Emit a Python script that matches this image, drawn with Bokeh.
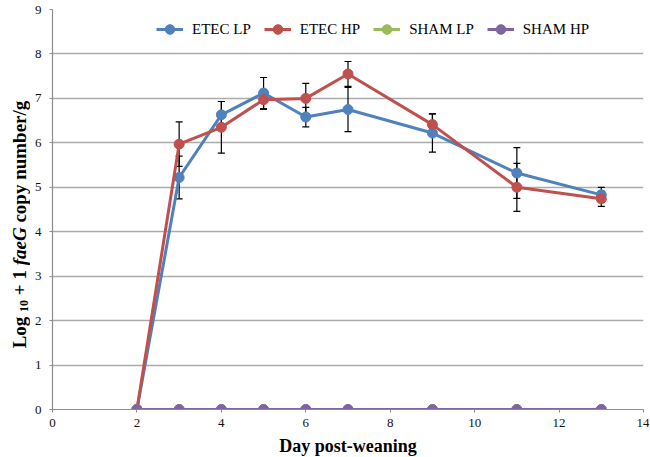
from math import pi
from bokeh.plotting import figure
from bokeh.layouts import row
from bokeh.models import ColumnDataSource, Whisker, TeeHead, Legend, LegendItem
from bokeh.core.properties import value
from bokeh.embed import file_html
from bokeh.resources import INLINE

days = [2, 3, 4, 5, 6, 7, 9, 11, 13]
etec_lp = [0, 5.22, 6.63, 7.12, 6.58, 6.75, 6.22, 5.32, 4.83]
etec_hp = [0, 5.97, 6.35, 6.97, 7.0, 7.55, 6.41, 5.0, 4.74]
sham_lp = [0, 0, 0, 0, 0, 0, 0, 0, 0]
sham_hp = [0, 0, 0, 0, 0, 0, 0, 0, 0]
err_lp = [0, 0.48, 0.3, 0.35, 0.22, 0.5, 0.43, 0.57, 0.17]
err_hp = [0, 0.5, 0.58, 0.22, 0.34, 0.28, 0.24, 0.54, 0.17]
series_names = ["ETEC LP", "ETEC HP", "SHAM LP", "SHAM HP"]
colors = ["#4F81BD", "#C0504D", "#9BBB59", "#8064A2"]
x_ticks = [0, 2, 4, 6, 8, 10, 12, 14]
y_ticks = [0, 1, 2, 3, 4, 5, 6, 7, 8, 9]
y_label_parts = ["Log", "10", "+ 1", "faeG", "copy number/g"]

FONT = "Liberation Serif"
H = 456
LW = 30          # width of the strip holding the y-axis title
TOP, FH = 9, 400

p = figure(frame_width=591, frame_height=FH, x_range=(0, 14), y_range=(0, 9),
           output_backend="svg", toolbar_location=None,
           min_border_left=52 - LW, min_border_top=TOP, min_border_right=6,
           min_border_bottom=H - TOP - FH)
p.outline_line_color = None
p.xgrid.grid_line_color = None
p.ygrid.grid_line_color = "#ABABAB"
p.ygrid.grid_line_width = 1.5
p.xaxis.ticker = x_ticks
p.yaxis.ticker = y_ticks
for ax in (p.xaxis, p.yaxis):
    ax.axis_line_color = "#8C8C8C"
    ax.axis_line_width = 1.2
    ax.major_tick_line_color = "#8C8C8C"
    ax.major_tick_out = 3
    ax.major_tick_in = 0
    ax.minor_tick_line_color = None
    ax.major_label_text_font = FONT
    ax.major_label_text_font_size = "13px"
    ax.major_label_text_color = "#111111"
p.yaxis.major_label_standoff = 8
p.xaxis.major_label_standoff = 6
p.xaxis.axis_label = "Day post-weaning"
p.xaxis.axis_label_text_font = FONT
p.xaxis.axis_label_text_font_size = "18px"
p.xaxis.axis_label_text_font_style = "bold"
p.xaxis.axis_label_text_color = "#000000"
p.xaxis.axis_label_standoff = 6

# error bars
for vals, errs in ((etec_lp, err_lp), (etec_hp, err_hp)):
    xs = [d for d, e in zip(days, errs) if e > 0]
    up = [v + e for v, e in zip(vals, errs) if e > 0]
    lo = [v - e for v, e in zip(vals, errs) if e > 0]
    src = ColumnDataSource(dict(x=xs, upper=up, lower=lo))
    w = Whisker(base="x", upper="upper", lower="lower", source=src,
                line_color="black", line_width=1.2,
                upper_head=TeeHead(size=7, line_color="black", line_width=1.2),
                lower_head=TeeHead(size=7, line_color="black", line_width=1.2))
    p.add_layout(w)

items = []
for name, vals, c in zip(series_names, [etec_lp, etec_hp, sham_lp, sham_hp], colors):
    rl = p.line(days, vals, line_color=c, line_width=3)
    rs = p.scatter(days, vals, size=10, fill_color=c, line_color=c)
    items.append(LegendItem(label=name, renderers=[rl, rs]))

legend = Legend(items=items, orientation="horizontal", location=(104, FH - 32),
                glyph_width=27, glyph_height=24, label_height=24, label_standoff=9,
                spacing=13, padding=0, margin=0, border_line_color=None,
                background_fill_alpha=0, label_text_font=FONT,
                label_text_font_size="15px", label_text_color="#000000",
                label_text_baseline="middle")
p.add_layout(legend)

# y-axis title strip: pieces so that "10" is a subscript and "faeG" italic
t = figure(frame_width=LW, frame_height=H, x_range=(0, LW), y_range=(H, 0),
           output_backend="svg", toolbar_location=None,
           x_axis_location=None, y_axis_location=None, title=None,
           min_border=0, min_border_left=0, min_border_right=0,
           min_border_top=0, min_border_bottom=0)
t.grid.visible = False
t.outline_line_color = None
sizes = [19, 12, 19, 19, 19]
styles = ["bold", "bold", "bold", "bold italic", "bold"]
units = [1667, 1000, 1320, 1999, 6417]      # Times bold advance widths (1/1000 em)
shifts = [0, 4, 0, 0, 0]
space = 0.250 * 19
total = sum(u / 1000.0 * s for u, s in zip(units, sizes)) + space * (len(units) - 1)
centre = 215
pos = centre + total / 2.0
for txt, sz, st, u, sh in zip(y_label_parts, sizes, styles, units, shifts):
    t.text(x=[19 + sh], y=[pos], text=[txt], angle=pi / 2,
           text_font=value(FONT), text_font_size=value(f"{sz}px"),
           text_font_style=value(st), text_color="#000000",
           text_align="left", text_baseline="alphabetic")
    pos -= u / 1000.0 * sz + space

layout = row(t, p, spacing=0)
open("out.html", "w").write(file_html(layout, INLINE))
